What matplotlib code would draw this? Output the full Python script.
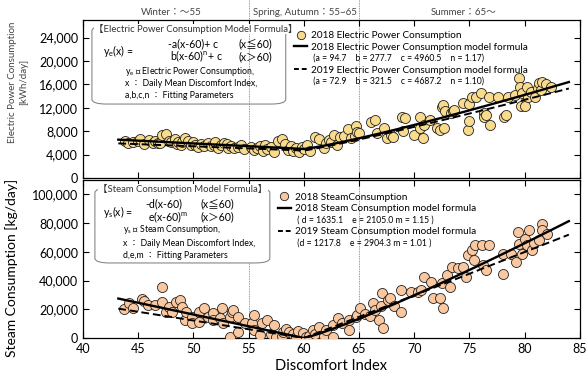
import matplotlib
matplotlib.use("Agg")
import matplotlib.pyplot as plt
import numpy as np
from matplotlib.patches import FancyBboxPatch
from matplotlib.lines import Line2D
from matplotlib.ticker import FuncFormatter

## Fonts
plt.rcParams['font.family'] = ['Lato', 'Noto Sans CJK JP', 'DejaVu Sans']
plt.rcParams['mathtext.fontset'] = 'custom'
plt.rcParams['mathtext.rm'] = 'Lato'
plt.rcParams['mathtext.it'] = 'Lato'

## Data
# electric power consumption 2018 [kWh/day] vs daily mean discomfort index
elec_x = [43.8, 44.1, 44.5, 45.0, 45.2, 45.5, 46.0, 46.3, 46.5, 46.8, 47.0, 47.2, 47.5, 47.8,
          48.0, 48.3, 48.5, 48.6, 48.9, 49.0, 49.2, 49.5, 49.8, 50.0, 50.1, 50.4, 50.7, 51.0,
          51.3, 51.6, 51.9, 52.0, 52.2, 52.5, 52.8, 53.0, 53.1, 53.4, 53.7, 54.0, 54.3, 54.6,
          55.2, 55.5, 55.8, 56.0, 56.3, 56.5, 56.7, 57.0, 57.3, 57.7, 58.0, 58.3, 58.6, 58.8,
          59.0, 59.3, 59.6, 59.8, 60.0, 60.3, 60.6, 61.0, 61.4, 61.8, 62.0, 62.3, 62.5, 62.7,
          63.0, 63.3, 63.6, 64.0, 64.3, 64.6, 64.7, 64.8, 65.0,
          66.1, 66.4, 66.6, 67.3, 67.5, 67.9, 68.1, 68.9, 69.0, 69.2, 70.0, 70.5, 70.5, 70.8,
          70.9, 71.4, 72.1, 72.3, 72.5, 72.6, 72.7, 72.8, 73.3, 73.5, 73.6, 74.4, 74.9, 75.0,
          75.0, 75.2, 75.6, 76.0, 76.3, 76.3, 76.5, 76.8, 76.9, 77.6, 78.1, 78.3, 78.5, 79.1,
          79.5, 79.6, 79.7, 79.8, 80.0, 80.2, 80.3, 80.6, 80.9, 81.2, 81.3, 81.5, 81.6, 81.9, 82.4]
elec_y = [6300, 5900, 6100, 6400, 6600, 5800, 6500, 6000, 6300, 5900, 6000, 7300, 7600, 6400,
          6100, 6600, 5800, 6200, 5700, 6100, 6800, 6400, 5600, 6200, 5700, 5300, 5800, 5500,
          5900, 5400, 5600, 6100, 5200, 5700, 6000, 5800, 5100, 5500, 5200, 5300, 5600, 4900,
          5300, 4800, 5100, 5500, 4600, 5700, 5000, 5300, 4500, 6400, 6600, 5800, 4700, 5500,
          4600, 5100, 4400, 5300, 4900, 5600, 4600, 7000, 6700, 5200, 5900, 6500, 6200, 7400,
          5700, 7000, 7200, 8400, 6800, 7100, 8800, 7800, 7700,
          9500, 9900, 7700, 8600, 6900, 7400, 7000, 10400, 8000, 10300, 7400, 10400, 8600, 6900,
          9000, 9900, 8600, 8200, 12200, 12500, 8600, 11400, 11100, 11400, 11700, 12800, 8200, 12700,
          9700, 13900, 13900, 14500, 11100, 10400, 10800, 13900, 9000, 13900, 10500, 10700, 13900, 14200,
          17100, 15600, 12300, 14500, 12300, 15600, 13900, 14700, 13900, 15300, 16200, 15000, 16400, 16100, 15600]

# steam consumption 2018 [kg/day]
steam_x = [43.7, 44.2, 44.5, 45.3, 45.5, 45.9, 46.5, 47.2, 47.2, 47.5, 47.8, 48.1, 48.4, 48.8,
           49.0, 49.2, 49.3, 49.9, 49.9, 50.5, 50.5, 51.0, 51.3, 51.8, 51.8, 52.4, 52.6, 52.7,
           53.3, 53.3, 53.5, 53.6, 54.0, 54.0, 54.7, 55.3, 55.5, 55.5, 56.0, 56.2, 56.7, 57.0,
           57.3, 57.5, 58.0, 58.1, 58.4, 58.7, 59.0, 59.3, 59.5, 59.9, 60.2, 60.5, 60.8, 61.0,
           61.4, 61.8, 62.0, 62.6, 62.6, 63.1, 63.5, 64.1, 64.1, 64.7, 64.8, 65.1, 65.5, 66.0,
           66.3, 66.4, 66.8, 67.0, 67.1, 67.2, 67.6, 67.8, 68.2, 68.8, 68.8, 69.7, 70.3, 70.6,
           70.9, 71.5, 71.7, 72.3, 72.5, 72.6, 73.0, 73.2, 73.4, 74.0, 74.4, 74.7, 74.9, 75.2,
           75.4, 75.5, 76.1, 76.2, 76.5, 76.8, 78.0, 78.0, 78.8, 79.2, 79.4, 79.5, 79.8, 80.0,
           80.2, 80.4, 80.7, 80.8, 81.3, 81.6, 81.6, 82.0]
steam_y = [20100, 24300, 20800, 27500, 26000, 22900, 22900, 35400, 25200, 18300, 21700, 18300, 25200, 26400,
           21700, 12500, 18300, 14800, 10400, 18300, 11300, 20800, 14800, 17400, 12500, 13700, 20600, 10400,
           14800, 900, 18300, 19400, 14800, 4400, 10400, 10400, 16000, 5500, 2000, 10400, 12500, 3000,
           9000, 900, 1500, 4400, 6000, 4400, 2500, 900, 5000, 3200, 900, 1500, 5500, 3000,
           7800, 1200, 5500, 9000, 900, 13700, 10200, 12500, 5500, 14800, 16000, 20600, 17000, 15000,
           24100, 19400, 12500, 22000, 31000, 6700, 26400, 28000, 22300, 33300, 18300, 32100, 32100, 33300,
           42600, 39100, 27600, 27600, 38000, 20600, 43700, 35600, 49500, 48400, 49500, 42600, 57600, 61100,
           54100, 64500, 64500, 50600, 47200, 64500, 44900, 58800, 58800, 53000, 73800, 65700, 58800, 69200,
           64500, 75000, 61100, 66100, 68000, 79600, 75000, 72700]

# fitted model parameters printed in the legends
elec_2018 = dict(a=94.7, b=277.7, c=4960.5, n=1.17)
elec_2019 = dict(a=72.9, b=321.5, c=4687.2, n=1.10)
steam_2018 = dict(d=1635.1, e=2105.0, m=1.15)
steam_2019 = dict(d=1217.8, e=2904.3, m=1.01)

x_ticks = [40, 45, 50, 55, 60, 65, 70, 75, 80, 85]
elec_ticks = [0, 4000, 8000, 12000, 16000, 20000, 24000]
steam_ticks = [0, 20000, 40000, 60000, 80000, 100000]
seasons = ["Winter：～55", "Spring, Autumn：55~65", "Summer：65～"]
season_pos = [48.0, 60.1, 74.5]


def elec_model(x, p):
    return np.where(x <= 60, -p['a'] * (x - 60) + p['c'],
                    p['b'] * np.clip(x - 60, 0, None) ** p['n'] + p['c'])


def steam_model(x, p):
    return np.where(x <= 60, -p['d'] * (x - 60),
                    p['e'] * np.clip(x - 60, 0, None) ** p['m'])


xm = np.linspace(43.2, 84.0, 300)
comma = FuncFormatter(lambda v, _: f"{int(v):,}")

fig = plt.figure(figsize=(5.86, 3.8), dpi=100)
ax1 = fig.add_axes([0.1416, 0.5316, 0.848, 0.4158])
ax2 = fig.add_axes([0.1416, 0.1105, 0.848, 0.4158])

for ax in (ax1, ax2):
    ax.set_xlim(40, 85)
    ax.set_xticks(x_ticks)
    ax.tick_params(direction='in', top=True, right=True, labelsize=9, length=4, width=0.8)
    for s in ax.spines.values():
        s.set_linewidth(0.9)
    ax.axvline(55, color='#777777', lw=0.6, ls=(0, (1, 1)), zorder=0)
    ax.axvline(65, color='#777777', lw=0.6, ls=(0, (1, 1)), zorder=0)

# dotted season separators continue above the top panel
for xv in (55, 65):
    ax1.axvline(xv, ymin=1, ymax=1.13, color='#777777', lw=0.6, ls=(0, (1, 1)), clip_on=False)
for name, xp in zip(seasons, season_pos):
    ax1.text(xp, 1.047, name, transform=ax1.get_xaxis_transform(), ha='center', va='center',
             fontsize=7, color='#444444')

## Top panel: electric power
ax1.set_ylim(0, 27000)
ax1.set_yticks(elec_ticks)
ax1.yaxis.set_major_formatter(comma)
ax1.tick_params(labelbottom=False)
ax1.scatter(elec_x, elec_y, s=52, c='#F9DB8D', edgecolors='#222222', linewidths=0.6, zorder=3)
ax1.plot(xm, elec_model(xm, elec_2018), color='black', lw=1.7, zorder=4)
ax1.plot(xm, elec_model(xm, elec_2019), color='black', lw=1.4, ls=(0, (4, 2)), zorder=4)
fig.text(0.031, 1 - 82 / 380, "Electric Power Consumption\n[kWh/day]", rotation=90,
         ha='center', va='center', fontsize=7, color='#444444', linespacing=1.3)

## Bottom panel: steam
ax2.set_ylim(0, 110000)
ax2.set_yticks(steam_ticks)
ax2.yaxis.set_major_formatter(comma)
ax2.scatter(steam_x, steam_y, s=52, c='#FAC8A0', edgecolors='#222222', linewidths=0.6, zorder=3)
ax2.plot(xm, steam_model(xm, steam_2018), color='black', lw=1.7, zorder=4)
ax2.plot(xm, steam_model(xm, steam_2019), color='black', lw=1.4, ls=(0, (4, 2)), zorder=4)
ax2.set_xlabel("Discomfort Index", fontsize=10.5, labelpad=3)
fig.text(0.020, 1 - 268 / 380, "Steam Consumption [kg/day]", rotation=90,
         ha='center', va='center', fontsize=10)

## Formula boxes
fs_eq = 7.6
fs_note = 6.3
box1 = FancyBboxPatch((0.018, 0.468), 0.39, 0.494, boxstyle="round,pad=0,rounding_size=0.03",
                      transform=ax1.transAxes, fc='none', ec='#888888', lw=0.8, zorder=5)
ax1.add_patch(box1)
t = ax1.transAxes
ax1.text(0.022, 0.943, "【Electric Power Consumption Model Formula】", transform=t, fontsize=6.8,
         va='center', color='#333333', zorder=6,
         bbox=dict(fc='white', ec='none', pad=0.3))
ax1.text(0.040, 0.804, r"$\mathrm{y_e(x)}$ =", transform=t, fontsize=fs_eq, va='center')
ax1.text(0.171, 0.852, "-a(x-60)+ c", transform=t, fontsize=fs_eq, va='center')
ax1.text(0.175, 0.768, r"b(x-60)$^\mathrm{n}$+ c", transform=t, fontsize=fs_eq, va='center')
ax1.text(0.312, 0.852, "(x≦60)", transform=t, fontsize=fs_eq, va='center')
ax1.text(0.312, 0.768, "(x＞60)", transform=t, fontsize=fs_eq, va='center')
ax1.text(0.0845, 0.677, r"$\mathrm{y_e}$ ： Electric Power Consumption,", transform=t, fontsize=fs_note, va='center')
ax1.text(0.0845, 0.600, "x ： Daily Mean Discomfort Index,", transform=t, fontsize=fs_note, va='center')
ax1.text(0.0845, 0.519, "a,b,c,n ： Fitting Parameters", transform=t, fontsize=fs_note, va='center')

box2 = FancyBboxPatch((0.024, 0.475), 0.352, 0.474, boxstyle="round,pad=0,rounding_size=0.03",
                      transform=ax2.transAxes, fc='white', ec='#888888', lw=0.8, zorder=5)
ax2.add_patch(box2)
t = ax2.transAxes
ax2.text(0.030, 0.943, "【Steam Consumption Model Formula】", transform=t, fontsize=6.8,
         va='center', color='#333333', zorder=6,
         bbox=dict(fc='white', ec='none', pad=0.3))
ax2.text(0.040, 0.800, r"$\mathrm{y_s(x)}$ =", transform=t, fontsize=fs_eq, va='center', zorder=6)
ax2.text(0.126, 0.852, "-d(x-60)", transform=t, fontsize=fs_eq, va='center', zorder=6)
ax2.text(0.130, 0.766, r"e(x-60)$^\mathrm{m}$", transform=t, fontsize=fs_eq, va='center', zorder=6)
ax2.text(0.236, 0.852, "(x≦60)", transform=t, fontsize=fs_eq, va='center', zorder=6)
ax2.text(0.236, 0.766, "(x＞60)", transform=t, fontsize=fs_eq, va='center', zorder=6)
ax2.text(0.0805, 0.684, r"$\mathrm{y_s}$ ： Steam Consumption,", transform=t, fontsize=fs_note, va='center', zorder=6)
ax2.text(0.0805, 0.600, "x ： Daily Mean Discomfort Index,", transform=t, fontsize=fs_note, va='center', zorder=6)
ax2.text(0.0805, 0.525, "d,e,m ： Fitting Parameters", transform=t, fontsize=fs_note, va='center', zorder=6)

## Legends
blank = Line2D([], [], color='none')


def make_legend(ax, dot_color, labels, anchor):
    handles = [Line2D([], [], ls='none', marker='o', ms=6, mfc=dot_color, mec='#222222', mew=0.6),
               Line2D([], [], color='black', lw=1.7), blank,
               Line2D([], [], color='black', lw=1.4, ls=(0, (2.5, 1.5))), blank]
    leg = ax.legend(handles, labels, loc='upper left', bbox_to_anchor=anchor, fontsize=7.2,
                    frameon=True, fancybox=False, framealpha=0, edgecolor='#999999',
                    handlelength=1.3, handletextpad=0.4, labelspacing=0.25,
                    borderpad=0.3, borderaxespad=0)
    leg.get_frame().set_linewidth(0.8)
    for i in (2, 4):
        leg.get_texts()[i].set_fontsize(6.2)
    leg.set_zorder(6)
    return leg


make_legend(ax1, '#F9DB8D',
            ["2018 Electric Power Consumption",
             "2018 Electric Power Consumption model formula",
             " (a = 94.7    b = 277.7    c = 4960.5    n = 1.17)",
             "2019 Electric Power Consumption model formula",
             " (a = 72.9    b = 321.5    c = 4687.2    n = 1.10)"],
            (0.419, 0.949))
make_legend(ax2, '#FAC8A0',
            ["2018 SteamConsumption",
             "2018 Steam Consumption model formula",
             " ( d = 1635.1    e = 2105.0 m = 1.15 )",
             "2019 Steam Consumption model formula",
             " (d = 1217.8    e = 2904.3 m = 1.01 )"],
            (0.386, 0.937))

fig.savefig("out.png", dpi=100)
